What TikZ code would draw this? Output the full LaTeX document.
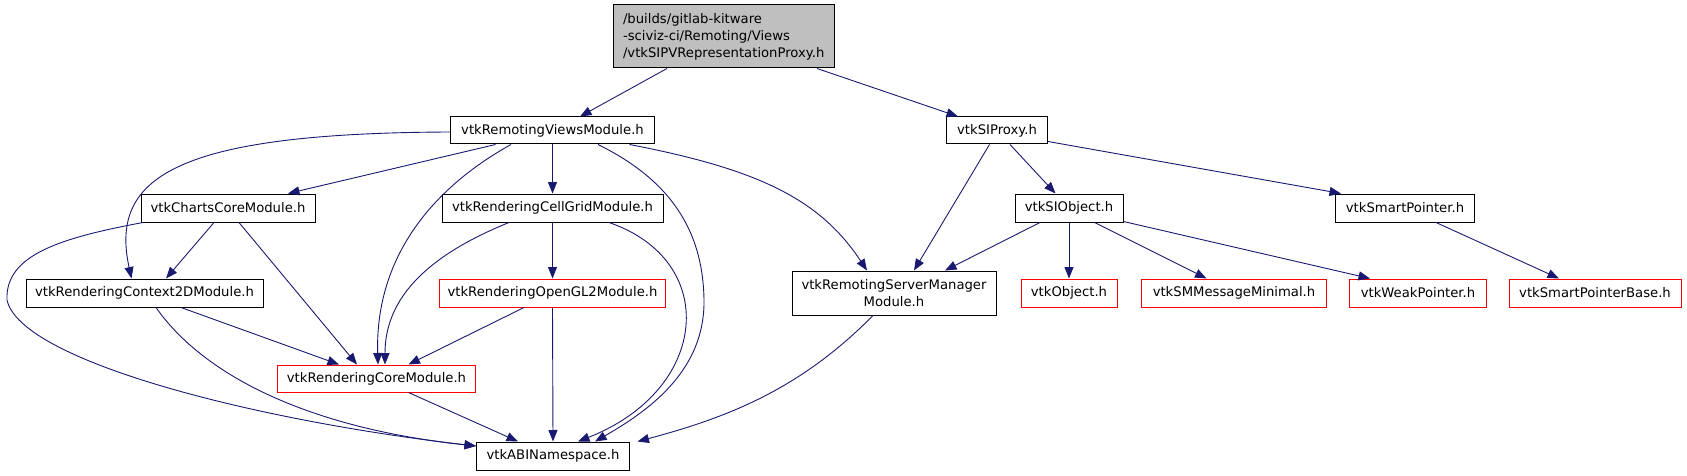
\documentclass[tikz,border=0pt]{standalone}
\usepackage{fontspec}
\setmainfont{DejaVu Sans}
\usetikzlibrary{arrows.meta}
\definecolor{edgec}{HTML}{191970}
\definecolor{topfill}{HTML}{BFBFBF}
\definecolor{redc}{HTML}{FF0000}
\begin{document}
\begin{tikzpicture}[x=1pt,y=-1pt,
  nbox/.style={draw=black, line width=1pt, rectangle, inner sep=0pt, minimum height=28pt, fill=white, font=\fontsize{13.2}{17}\selectfont},
  redbox/.style={nbox, draw=redc},
  dep/.style={draw=edgec, line width=0.9pt, -{Triangle[length=11.5pt,width=9pt]}}]
\useasboundingbox (0,0) rectangle (1687,476);
% nodes
\node[nbox, fill=topfill, align=left, text width=201pt, inner xsep=10pt, minimum height=63pt] (top) at (723.5,36.5) {/builds/gitlab-kitware\\-sciviz-ci/Remoting/Views\\/vtkSIPVRepresentationProxy.h};
\node[nbox, minimum width=204pt, minimum height=27pt] (rv) at (552.5,130.5) {vtkRemotingViewsModule.h};
\node[nbox, minimum width=101pt, minimum height=27pt] (sip) at (997,130.5) {vtkSIProxy.h};
\node[nbox, minimum width=174pt] (cc) at (228,208) {vtkChartsCoreModule.h};
\node[nbox, minimum width=221pt] (cg) at (552.5,208) {vtkRenderingCellGridModule.h};
\node[nbox, minimum width=108pt] (sio) at (1069,208) {vtkSIObject.h};
\node[nbox, minimum width=139pt] (sp) at (1405,208) {vtkSmartPointer.h};
\node[nbox, minimum width=237pt] (c2d) at (144.5,293) {vtkRenderingContext2DModule.h};
\node[redbox, minimum width=226pt] (ogl) at (552.5,293) {vtkRenderingOpenGL2Module.h};
\node[nbox, minimum width=204pt, minimum height=44pt, align=center] (rsm) at (894,293) {vtkRemotingServerManager\\Module.h};
\node[redbox, minimum width=96pt] (obj) at (1069,293) {vtkObject.h};
\node[redbox, minimum width=185pt] (smm) at (1234,293) {vtkSMMessageMinimal.h};
\node[redbox, minimum width=137pt] (wp) at (1418,293) {vtkWeakPointer.h};
\node[redbox, minimum width=172pt] (spb) at (1595,293) {vtkSmartPointerBase.h};
\node[redbox, minimum width=198pt, minimum height=27pt] (rc) at (376.5,378.5) {vtkRenderingCoreModule.h};
\node[nbox, minimum width=153pt] (abi) at (553,456) {vtkABINamespace.h};
% edges
\draw[dep] ([xshift=-56.5pt]top.south) -- ([xshift=27.5pt]rv.north);
\draw[dep] ([xshift=93.5pt]top.south) -- ([xshift=-39pt]sip.north);
\draw[dep] ([xshift=-57pt]rv.south) -- ([xshift=60pt]cc.north);
\draw[dep] ([yshift=-1.5pt]rv.west) .. controls +(-280,1) and +(-21.5,-99) .. ([xshift=-13pt]c2d.north);
\draw[dep] (rv.south) -- (cg.north);
\draw[dep] ([xshift=-41.5pt]rv.south) .. controls +(-81,45) and +(-3,-105) .. ([xshift=1.5pt]rc.north);
\draw[dep] ([xshift=45.5pt]rv.south) .. controls (670,180) and (703,230) .. (704,300) .. controls (705,370) and (650,410) .. ([xshift=42pt]abi.north);
\draw[dep] ([xshift=77pt]rv.south) .. controls +(130,25) and +(-47,-71) .. ([xshift=-27pt]rsm.north);
\draw[dep] ([xshift=-14pt]cc.south) -- ([xshift=21.5pt]c2d.north);
\draw[dep] ([xshift=11pt]cc.south) -- ([xshift=-19.5pt]rc.north);
\draw[dep] ([xshift=-85pt]cc.south) .. controls (60,238) and (5,255) .. (7,300) .. controls (20,360) and (250,420) .. ([yshift=10pt]abi.west);
\draw[dep] ([xshift=-43.5pt]cg.south) .. controls +(-69,28) and +(0,-74) .. ([xshift=8.5pt]rc.north);
\draw[dep] (cg.south) -- (ogl.north);
\draw[dep] ([xshift=56.5pt]cg.south) .. controls +(111,38) and +(132,-52) .. ([xshift=25pt]abi.north);
\draw[dep] ([xshift=36.5pt]c2d.south) -- ([xshift=-37.5pt]rc.north);
\draw[dep] ([xshift=11.5pt]c2d.south) .. controls +(44,63) and +(-177,-19) .. ([yshift=10pt]abi.west);
\draw[dep] ([xshift=-28.5pt]ogl.south) -- ([xshift=32pt]rc.north);
\draw[dep] (ogl.south) -- (abi.north);
\draw[dep] ([xshift=32pt]rc.south) -- ([xshift=-35pt]abi.north);
\draw[dep] ([xshift=-7.5pt]sip.south) -- ([xshift=20pt]rsm.north);
\draw[dep] ([xshift=13pt]sip.south) -- ([xshift=-13.5pt]sio.north);
\draw[dep] ([yshift=-11pt]sip.east) -- ([xshift=-64pt]sp.north);
\draw[dep] ([xshift=-29pt]sio.south) -- ([xshift=51pt]rsm.north);
\draw[dep] (sio.south) -- (obj.north);
\draw[dep] ([xshift=25.5pt]sio.south) -- ([xshift=-27.5pt]smm.north);
\draw[dep] ([yshift=1pt]sio.south east) -- ([xshift=-48pt]wp.north);
\draw[dep] ([xshift=31pt]sp.south) -- ([xshift=-36pt]spb.north);
\draw[dep] ([xshift=-21pt]rsm.south) .. controls +(-73,74) and +(90,-24) .. ([xshift=7.5pt]abi.north east);
\end{tikzpicture}
\end{document}
